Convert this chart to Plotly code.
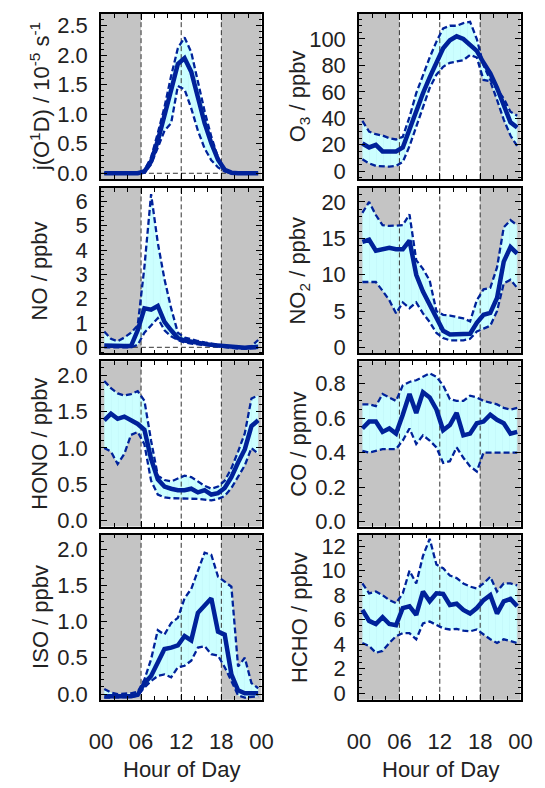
import plotly.graph_objects as go

# ---------------- data ----------------
hours = [0.5, 1.5, 2.5, 3.5, 4.5, 5.5, 6.5, 7.5, 8.5, 9.5, 10.5, 11.5,
         12.5, 13.5, 14.5, 15.5, 16.5, 17.5, 18.5, 19.5, 20.5, 21.5, 22.5, 23.5]

jo1d_mean = [0, 0, 0, 0, 0, 0, 0.03, 0.2, 0.55, 0.95, 1.41, 1.85,
             1.95, 1.72, 1.30, 0.85, 0.51, 0.23, 0.06, 0.01, 0, 0, 0, 0]
jo1d_hi = [0, 0, 0, 0, 0, 0, 0.05, 0.27, 0.68, 1.12, 1.65, 2.12,
           2.30, 2.05, 1.55, 1.05, 0.62, 0.27, 0.07, 0.01, 0, 0, 0, 0]
jo1d_lo = [0, 0, 0, 0, 0, 0, 0.01, 0.15, 0.45, 0.72, 0.85, 1.48,
           1.42, 1.10, 0.72, 0.42, 0.22, 0.10, 0.03, 0, 0, 0, 0, 0]

o3_mean = [21, 18, 20, 15, 15, 15, 18, 32, 46, 59, 71, 83,
           93, 99, 102, 100, 96, 91, 82, 74, 63, 50, 37, 33]
o3_hi = [38, 30, 28, 27, 25, 24, 26, 41, 59, 73, 86, 98,
         108, 110, 110, 112, 113, 100, 80, 69, 62, 55, 45, 42]
o3_lo = [9, 6, 4, 3.5, 3.5, 4, 7, 19, 34, 49, 63, 73,
         79, 82, 83, 84, 88, 86, 69, 68, 54, 39, 27, 19]

no_mean = [0.07, 0.05, 0.05, 0.05, 0.05, 0.7, 1.6, 1.55, 1.7, 1.05, 0.7, 0.38,
           0.28, 0.22, 0.18, 0.14, 0.10, 0.07, 0.03, 0.0, -0.02, -0.02, 0.0, 0.02]
no_hi = [0.65, 0.35, 0.25, 0.4, 0.6, 0.9, 3.3, 6.3, 4.3, 2.8, 1.6, 0.6,
         0.4, 0.32, 0.26, 0.2, 0.15, 0.1, 0.05, 0.02, 0.0, 0.0, 0.05, 0.3]
no_lo = [0.0, 0.0, 0.0, 0.0, 0.0, 0.1, 0.6, 0.9, 1.2, 0.7, 0.45, 0.3,
         0.2, 0.15, 0.12, 0.1, 0.07, 0.04, 0.0, -0.05, -0.05, -0.05, -0.05, -0.03]

no2_mean = [14.5, 14.8, 13.3, 13.5, 13.7, 13.5, 13.5, 14.7, 10.0, 7.7, 5.9, 4.1,
            2.3, 1.8, 1.8, 1.8, 1.9, 3.4, 4.5, 4.75, 6.8, 11.8, 13.8, 12.9]
no2_hi = [18.5, 20.0, 18.2, 16.8, 16.7, 16.7, 16.8, 18.3, 12.0, 10.8, 9.2, 5.0,
          4.5, 4.4, 4.2, 4.0, 3.6, 6.5, 8.0, 8.2, 11.0, 16.5, 17.5, 16.8]
no2_lo = [9.0, 9.0, 9.0, 7.8, 6.5, 4.7, 6.2, 5.4, 6.2, 4.7, 3.5, 2.0,
          1.3, 1.0, 1.0, 1.0, 1.2, 2.2, 2.6, 3.0, 5.0, 8.8, 9.3, 8.2]

hono_mean = [1.38, 1.47, 1.40, 1.43, 1.38, 1.33, 1.25, 0.85, 0.57, 0.47, 0.44, 0.42,
             0.42, 0.44, 0.39, 0.42, 0.36, 0.38, 0.45, 0.60, 0.80, 0.98, 1.30, 1.38]
hono_hi = [1.92, 1.82, 1.75, 1.72, 1.74, 1.78, 1.65, 1.10, 0.62, 0.56, 0.54, 0.58,
           0.62, 0.60, 0.54, 0.48, 0.44, 0.47, 0.55, 0.72, 0.95, 1.20, 1.68, 1.72]
hono_lo = [1.00, 0.95, 0.78, 0.92, 1.18, 1.22, 1.05, 0.55, 0.36, 0.32, 0.31, 0.31,
           0.30, 0.30, 0.30, 0.29, 0.28, 0.30, 0.34, 0.45, 0.60, 0.76, 1.00, 0.92]

co_mean = [0.54, 0.58, 0.58, 0.52, 0.54, 0.51, 0.62, 0.74, 0.63, 0.75, 0.72, 0.65,
           0.53, 0.56, 0.63, 0.50, 0.51, 0.57, 0.58, 0.62, 0.59, 0.57, 0.51, 0.52]
co_hi = [0.68, 0.68, 0.67, 0.74, 0.72, 0.70, 0.79, 0.81, 0.82, 0.84, 0.86, 0.84,
         0.79, 0.71, 0.70, 0.70, 0.73, 0.72, 0.70, 0.69, 0.68, 0.66, 0.65, 0.66]
co_lo = [0.41, 0.40, 0.41, 0.42, 0.42, 0.42, 0.47, 0.54, 0.45, 0.50, 0.47, 0.43,
         0.34, 0.35, 0.43, 0.37, 0.32, 0.29, 0.40, 0.40, 0.40, 0.40, 0.40, 0.40]

iso_mean = [-0.03, -0.03, -0.04, -0.03, -0.03, -0.01, 0.15, 0.25, 0.43, 0.62, 0.64, 0.67,
            0.80, 0.74, 1.12, 1.22, 1.32, 0.86, 0.82, 0.27, 0.05, 0.01, 0.01, 0.01]
iso_hi = [0.07, 0.02, 0.0, 0.0, 0.01, 0.03, 0.20, 0.48, 0.88, 0.82, 0.98, 1.05,
          1.32, 1.45, 1.70, 1.95, 1.92, 1.62, 1.55, 1.48, 0.38, 0.50, 0.15, 0.08]
iso_lo = [-0.05, -0.05, -0.05, -0.05, -0.04, -0.02, 0.09, 0.18, 0.25, 0.27, 0.23, 0.37,
          0.39, 0.46, 0.64, 0.66, 0.55, 0.53, 0.37, 0.18, -0.02, -0.05, -0.04, -0.03]

hcho_mean = [6.8, 5.9, 5.65, 6.2, 5.65, 5.55, 6.95, 7.1, 6.4, 8.3, 7.5, 8.15,
             8.1, 7.2, 7.3, 6.8, 6.5, 6.95, 7.6, 8.0, 6.5, 7.5, 7.7, 7.1]
hcho_hi = [8.96, 8.15, 8.3, 8.0, 7.6, 7.35, 8.15, 10.0, 8.96, 11.2, 12.6, 10.5,
           10.2, 9.6, 9.4, 8.96, 8.7, 8.55, 8.96, 9.5, 8.3, 8.96, 8.96, 8.8]
hcho_lo = [4.1, 3.85, 3.3, 3.45, 4.1, 4.65, 4.9, 4.9, 4.4, 5.7, 5.85, 5.6,
           5.3, 5.2, 5.25, 5.1, 5.05, 5.2, 4.8, 4.4, 4.1, 4.4, 4.25, 4.1]

x_tickvals = [0, 6, 12, 18, 24]
x_ticktext = ["00", "06", "12", "18", "00"]
x_minorvals = [2, 4, 8, 10, 14, 16, 20, 22]
night_periods = [(0, 6), (18, 24)]
ref_hours = [6, 12, 18]

titles = ["j(O<sup>1</sup>D) / 10<sup>-5</sup> s<sup>-1</sup>", "O<sub>3</sub> / ppbv",
          "NO / ppbv", "NO<sub>2</sub> / ppbv",
          "HONO / ppbv", "CO / ppmv",
          "ISO / ppbv", "HCHO / ppbv"]

# ---------------- styling / layout ----------------
W, H = 545, 788
FONT = "Liberation Sans, Arial, Helvetica, sans-serif"
TXT = "#222222"
NAVY = "#00229a"
FILL = "#ccffff"
GRAY = "#c4c4c4"

col_x = [(93, 261), (363, 532)]
row_y = [(13, 180), (189, 356), (364, 531), (539, 706)]

panels = [
    dict(mean=jo1d_mean, hi=jo1d_hi, lo=jo1d_lo, rng=[-0.1, 2.7], dtick=0.5, minor=0.1, fmt=".1f", zero=True),
    dict(mean=o3_mean, hi=o3_hi, lo=o3_lo, rng=[-6, 119], dtick=20, minor=5, fmt="d", zero=False),
    dict(mean=no_mean, hi=no_hi, lo=no_lo, rng=[-0.25, 6.55], dtick=1, minor=0.2, fmt="d", zero=True),
    dict(mean=no2_mean, hi=no2_hi, lo=no2_lo, rng=[-0.8, 21.9], dtick=5, minor=1, fmt="d", zero=False),
    dict(mean=hono_mean, hi=hono_hi, lo=hono_lo, rng=[-0.08, 2.19], dtick=0.5, minor=0.1, fmt=".1f", zero=False),
    dict(mean=co_mean, hi=co_hi, lo=co_lo, rng=[-0.03, 0.93], dtick=0.2, minor=0.05, fmt=".1f", zero=False),
    dict(mean=iso_mean, hi=iso_hi, lo=iso_lo, rng=[-0.08, 2.2], dtick=0.5, minor=0.1, fmt=".1f", zero=False),
    dict(mean=hcho_mean, hi=hcho_hi, lo=hcho_lo, rng=[-0.54, 12.95], dtick=2, minor=0.5, fmt="d", zero=False),
]

fig = go.Figure()
layout = dict(
    width=W, height=H, autosize=False,
    margin=dict(l=0, r=0, t=0, b=0),
    paper_bgcolor="white", plot_bgcolor="white",
    showlegend=False,
    font=dict(family=FONT, size=22, color=TXT),
)
shapes = []
annotations = []

for i, p in enumerate(panels):
    n = i + 1
    r, c = divmod(i, 2)
    xs = "x" if n == 1 else f"x{n}"
    ys = "y" if n == 1 else f"y{n}"
    x0, x1 = col_x[c]
    yt, yb = row_y[r]
    xdom = [x0 / W, x1 / W]
    ydom = [1 - yb / H, 1 - yt / H]
    bottom = r == 3

    layout["xaxis" if n == 1 else f"xaxis{n}"] = dict(
        domain=xdom, anchor=ys, range=[0, 24],
        tickmode="array", tickvals=x_tickvals, ticktext=x_ticktext,
        showticklabels=bottom, ticks="inside", ticklen=6, tickwidth=1, tickcolor="black",
        minor=dict(tickmode="array", tickvals=x_minorvals, ticks="inside", ticklen=4,
                   tickwidth=1, tickcolor="black"),
        showline=True, linecolor="black", linewidth=1.5, mirror="allticks",
        showgrid=False, zeroline=False, fixedrange=True,
        ticklabelstandoff=21, tickfont=dict(size=22, color=TXT, family=FONT),
    )
    layout["yaxis" if n == 1 else f"yaxis{n}"] = dict(
        domain=ydom, anchor=xs, range=p["rng"],
        tickmode="linear", tick0=0, dtick=p["dtick"], tickformat=p["fmt"],
        ticks="inside", ticklen=6, tickwidth=1, tickcolor="black",
        minor=dict(tick0=0, dtick=p["minor"], ticks="inside", ticklen=3,
                   tickwidth=1, tickcolor="black"),
        showline=True, linecolor="black", linewidth=1.5, mirror="allticks",
        showgrid=False, zeroline=False, fixedrange=True,
        ticklabelstandoff=7, tickfont=dict(size=22, color=TXT, family=FONT),
    )

    for (a, b) in night_periods:
        shapes.append(dict(type="rect", xref=xs, yref=f"{ys} domain", x0=a, x1=b, y0=0, y1=1,
                           fillcolor=GRAY, line=dict(width=0), layer="below"))

    # spread band
    fig.add_trace(go.Scatter(x=hours, y=p["lo"], xaxis=xs, yaxis=ys, mode="lines",
                             line=dict(width=0, color=FILL), hoverinfo="skip"))
    fig.add_trace(go.Scatter(x=hours, y=p["hi"], xaxis=xs, yaxis=ys, mode="lines",
                             line=dict(width=0, color=FILL), fill="tonexty", fillcolor=FILL,
                             fillpattern=dict(shape="|", size=7, solidity=0.1,
                                              fgcolor="#b8eef2", bgcolor=FILL),
                             hoverinfo="skip"))
    # reference lines
    for h in ref_hours:
        fig.add_trace(go.Scatter(x=[h, h], y=p["rng"], xaxis=xs, yaxis=ys, mode="lines",
                                 line=dict(color="#333333", width=1, dash="5px,3px"),
                                 hoverinfo="skip"))
    if p["zero"]:
        fig.add_trace(go.Scatter(x=[0, 24], y=[0, 0], xaxis=xs, yaxis=ys, mode="lines",
                                 line=dict(color="#333333", width=1, dash="5px,3px"),
                                 hoverinfo="skip"))
    # band edges
    for key in ("hi", "lo"):
        fig.add_trace(go.Scatter(x=hours, y=p[key], xaxis=xs, yaxis=ys, mode="lines",
                                 line=dict(color=NAVY, width=2.3, dash="6px,3px")))
    # mean
    fig.add_trace(go.Scatter(x=hours, y=p["mean"], xaxis=xs, yaxis=ys, mode="lines",
                             line=dict(color=NAVY, width=4.5)))

    # y title
    tx = 29 if c == 0 else 300
    annotations.append(dict(text=titles[i], xref="paper", yref="paper",
                            x=tx / W, y=1 - (yt + yb) / 2 / H, textangle=-90,
                            showarrow=False, xanchor="center", yanchor="middle",
                            font=dict(size=22, color=TXT, family=FONT)))

for cx in (177, 448):
    annotations.append(dict(text="Hour of Day", xref="paper", yref="paper",
                            x=cx / W, y=1 - 776 / H, showarrow=False,
                            xanchor="center", yanchor="middle",
                            font=dict(size=22, color=TXT, family=FONT)))

layout["shapes"] = shapes
layout["annotations"] = annotations
fig.update_layout(**layout)
fig.write_html("out.html")
